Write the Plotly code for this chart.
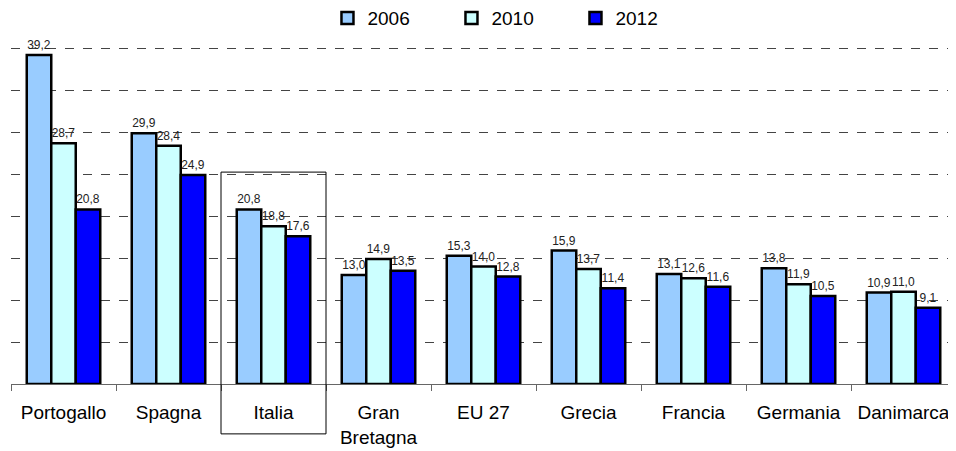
import plotly.graph_objects as go

categories = ["Portogallo", "Spagna", "Italia", "Gran<br>Bretagna", "EU 27",
              "Grecia", "Francia", "Germania", "Danimarca"]
series_names = ["2006", "2010", "2012"]
v2006 = [39.2, 29.9, 20.8, 13.0, 15.3, 15.9, 13.1, 13.8, 10.9]
v2010 = [28.7, 28.4, 18.8, 14.9, 14.0, 13.7, 12.6, 11.9, 11.0]
v2012 = [20.8, 24.9, 17.6, 13.5, 12.8, 11.4, 11.6, 10.5, 9.1]
colors = ["#99CCFF", "#CCFFFF", "#0000FF"]

fig = go.Figure()
for name, vals, col in zip(series_names, [v2006, v2010, v2012], colors):
    fig.add_trace(go.Bar(
        x=categories, y=vals, name=name,
        marker=dict(color=col, line=dict(color="black", width=2.5)),
        text=[f"{v:.1f}".replace(".", ",") for v in vals],
        textposition="outside",
        textfont=dict(family="Liberation Sans, Arial", size=12, color="#222"),
        cliponaxis=False,
    ))

fig.add_shape(type="rect", xref="x", yref="paper", x0=1.5, x1=2.5,
              y0=-0.145, y1=0.616, line=dict(color="black", width=1),
              fillcolor="rgba(0,0,0,0)", layer="above")

fig.update_layout(
    width=948, height=443,
    margin=dict(l=3, r=0, t=32, b=67, autoexpand=False),
    plot_bgcolor="white", paper_bgcolor="white",
    barmode="group", bargap=0.3, bargroupgap=0,
    font=dict(family="Liberation Sans, Arial", size=19, color="black"),
    legend=dict(orientation="h", xref="container", yref="container",
                x=0.337, xanchor="left", y=0.977, yanchor="middle",
                entrywidth=79, font=dict(size=19), itemwidth=30),
    xaxis=dict(showline=True, linecolor="#666", linewidth=1, ticks="outside",
               tickson="boundaries", ticklen=6, tickcolor="#666",
               tickfont=dict(size=19), showgrid=False, automargin=False,
               ticklabelstandoff=11),
    yaxis=dict(range=[0, 41], dtick=5, showticklabels=False, showgrid=True,
               gridcolor="#444", griddash="dash", gridwidth=1, zeroline=False,
               showline=False, automargin=False),
    showlegend=True,
)

fig.write_html("out.html")
